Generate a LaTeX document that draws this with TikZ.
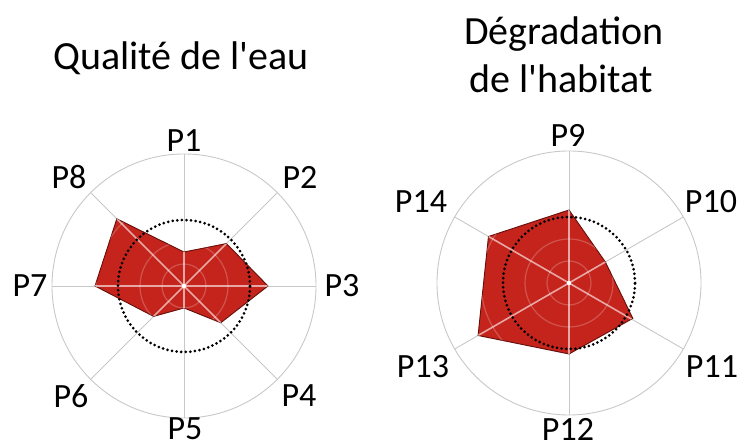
\documentclass[tikz,border=0pt]{standalone}
\usepackage{fontspec}
\setmainfont{Carlito}
\newcommand\sq{\XeTeXglyph\XeTeXcharglyph"27\relax}
\definecolor{radarred}{RGB}{196,36,28}
\definecolor{radaredge}{RGB}{100,16,10}
\definecolor{gridgray}{RGB}{200,200,200}
\begin{document}
\begin{tikzpicture}[x=1pt,y=1pt,
  axislabel/.style={font=\fontsize{34}{40}\selectfont, inner sep=0pt, anchor=center},
  titlelabel/.style={font=\fontsize{40}{48}\selectfont, inner sep=0pt, anchor=base},
  gridline/.style={draw=gridgray, line width=0.9pt},
  areafill/.style={fill=radarred, draw=radaredge, line width=0.9pt, line join=miter},
  innerring/.style={draw=white, draw opacity=0.22, line width=1.2pt},
  innerspoke/.style={draw=white, draw opacity=0.6, line width=1.6pt},
  refcircle/.style={draw=black, line width=3pt, line cap=round, dash pattern=on 0pt off 4.6pt}
]
\useasboundingbox (0,0) rectangle (744,443);

% ---------------- Left chart: Qualite de l'eau ----------------
\begin{scope}[shift={(184,157)}]
  \coordinate (cL) at (0,0);
  \draw[gridline] (cL) circle[radius=132];
  \foreach \a in {90,45,0,-45,-90,-135,180,135}
    \draw[gridline] (cL) -- (\a:132);
  \path[areafill] (90:34) -- (45:60) -- (0:84) -- (-45:52) -- (-90:22) -- (-135:43) -- (180:89) -- (135:95) -- cycle;
  \begin{scope}
    \clip (90:34) -- (45:60) -- (0:84) -- (-45:52) -- (-90:22) -- (-135:43) -- (180:89) -- (135:95) -- cycle;
    \foreach \r in {22,44,88,110}
      \draw[innerring] (cL) circle[radius=\r];
    \foreach \a in {90,45,0,-45,-90,-135,180,135}
      \draw[innerspoke] (cL) -- (\a:132);
  \end{scope}
  \draw[refcircle] (cL) circle[radius=66];
  \fill[white] (cL) circle[radius=2.2];
\end{scope}

% ---------------- Right chart: Degradation de l'habitat ----------------
\begin{scope}[shift={(569,160)}]
  \coordinate (cR) at (0,0);
  \draw[gridline] (cR) circle[radius=132];
  \foreach \a in {90,30,-30,-90,-150,150}
    \draw[gridline] (cR) -- (\a:132);
  \path[areafill] (90:73) -- (30:42) -- (-29:73) -- (-90:71) -- (-150:105) -- (150:93) -- cycle;
  \begin{scope}
    \clip (90:73) -- (30:42) -- (-29:73) -- (-90:71) -- (-150:105) -- (150:93) -- cycle;
    \foreach \r in {22,44,88,110}
      \draw[innerring] (cR) circle[radius=\r];
    \foreach \a in {90,30,-30,-90,-150,150}
      \draw[innerspoke] (cR) -- (\a:132);
  \end{scope}
  \draw[refcircle] (cR) circle[radius=66];
  \fill[white] (cR) circle[radius=2.2];
\end{scope}

% ---------------- Titles ----------------
\node[titlelabel] (t1) at (181,373) {Qualité de l\sq eau};
\node[titlelabel] (t2a) at (564,398) {Dégradation};
\node[titlelabel] (t2b) at (561,350) {de l\sq habitat};

% ---------------- Axis labels, left ----------------
\node[axislabel] (p1) at (184,302) {P1};
\node[axislabel] (p2) at (300,266) {P2};
\node[axislabel] (p3) at (342,157) {P3};
\node[axislabel] (p4) at (299,47) {P4};
\node[axislabel] (p5) at (185,14) {P5};
\node[axislabel] (p6) at (71,47) {P6};
\node[axislabel] (p7) at (30,157) {P7};
\node[axislabel] (p8) at (69,266) {P8};

% ---------------- Axis labels, right ----------------
\node[axislabel] (p9) at (568,308) {P9};
\node[axislabel] (p10) at (711,241) {P10};
\node[axislabel] (p11) at (712,76) {P11};
\node[axislabel] (p12) at (568,14) {P12};
\node[axislabel] (p13) at (423,76) {P13};
\node[axislabel] (p14) at (421,241) {P14};
\end{tikzpicture}
\end{document}
